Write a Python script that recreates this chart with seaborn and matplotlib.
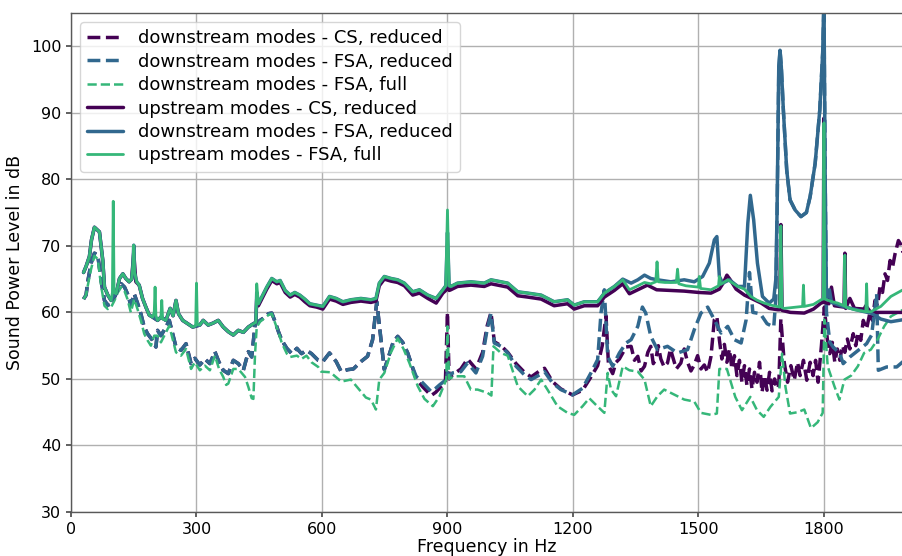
import matplotlib
matplotlib.use("Agg")
import matplotlib.pyplot as plt
import seaborn as sns

# ---- downstream modes, CS, reduced ----
f_down_cs = [30, 36, 40, 48, 56, 64, 72, 80, 88, 96, 104, 112, 120, 128, 135, 143, 151, 159, 167,
             175, 183, 195, 203, 207, 215, 227, 235, 243, 251, 263, 275, 287, 296, 308, 320, 332,
             344, 354, 364, 376, 388, 400, 412, 424, 432, 440, 452, 464, 472, 480, 488, 496, 504,
             516, 528, 540, 551, 563, 575, 591, 602, 618, 634, 646, 662, 675, 693, 709, 721, 731,
             741, 749, 760, 770, 781, 793, 805, 815, 825, 841, 861, 872, 881, 895, 900, 904, 912,
             932, 948, 968, 984, 995, 1004, 1012, 1028, 1044, 1064, 1084, 1100, 1120, 1132, 1151,
             1171, 1199, 1223, 1243, 1259, 1270, 1279, 1285, 1295, 1303, 1311, 1327,
             1339, 1347, 1355, 1363, 1371, 1379, 1386, 1392, 1398, 1404, 1410, 1418, 1426, 1433,
             1440, 1447, 1458, 1466, 1474, 1482, 1490, 1498, 1506, 1514, 1522, 1530, 1538, 1544,
             1550, 1556, 1562, 1568, 1574, 1580, 1586, 1592, 1598, 1604, 1610, 1616, 1622, 1628,
             1634, 1640, 1646, 1652, 1658, 1664, 1670, 1676, 1682, 1688, 1692, 1697, 1705, 1713,
             1721, 1729, 1737, 1743, 1751, 1759, 1767, 1774, 1780, 1786, 1794,
             1801, 1808, 1814, 1820, 1826, 1832, 1838, 1844, 1850, 1856, 1862, 1870, 1876, 1882,
             1888, 1894, 1902, 1910, 1916, 1922, 1928, 1934, 1940, 1946, 1952, 1958, 1964, 1970,
             1978, 1984, 1989]
L_down_cs = [62.0, 62.6, 64.6, 67.4, 68.9, 68.6, 64.8, 61.8, 61.1, 61.3, 62.3, 63.6, 64.3, 63.8,
             62.8, 61.1, 62.8, 61.4, 59.8, 57.8, 56.8, 55.8, 54.8, 57.3, 56.5, 57.8, 58.8, 56.8,
             54.8, 54.3, 55.3, 52.3, 53.1, 52.1, 53.0, 52.3, 54.1, 52.5, 51.3, 50.8, 52.8, 52.3,
             51.3, 54.1, 53.3, 58.1, 58.8, 59.3, 59.8, 59.9, 58.6, 57.1, 55.8, 54.6, 53.8, 54.6,
             53.8, 54.3, 53.8, 52.8, 52.6, 53.9, 52.6, 51.1, 51.4, 51.5, 52.6, 53.4, 55.9, 61.6,
             56.0, 51.4, 53.5, 55.5, 56.4, 55.5, 53.9, 52.0, 50.0, 48.8, 47.5, 48.0, 48.6, 49.5,
             60.0, 50.0, 50.6, 51.5, 53.0, 51.5, 54.0, 58.0, 60.0, 55.6, 55.0, 54.0, 52.3, 51.0,
             50.3, 51.2, 51.6, 49.6, 48.5, 47.6, 48.3, 50.3, 52.0, 55.0, 59.5, 52.0, 50.8, 52.5,
             53.0, 54.8,
             54.9, 52.8, 53.4, 51.2, 51.9, 54.0, 54.9, 52.3, 52.9, 55.0, 53.0, 51.8, 52.4, 54.5,
             53.0, 51.5, 52.4, 54.5, 52.5, 51.2, 52.1, 53.5, 51.5, 52.1, 51.0, 53.4, 58.9, 59.4,
             55.9, 53.0, 55.2, 52.5, 54.5, 51.5, 53.5, 50.5, 52.8, 49.5, 52.0, 49.0, 51.5, 48.5,
             51.0, 49.5, 52.5, 48.0, 50.5, 48.3, 51.0, 48.2, 50.0, 48.5, 49.0, 59.0, 52.5, 49.5,
             52.0, 49.8, 52.5, 50.5, 52.8, 49.8, 52.5, 50.5, 52.8, 49.5, 55.0,
             60.8, 56.0, 53.8, 55.5, 52.5, 54.5, 52.8, 55.0, 54.0, 56.0, 54.5, 56.8, 55.0, 57.0,
             55.8, 58.8, 57.5, 60.0, 58.8, 61.8, 61.0, 63.8, 63.0, 65.8, 64.8, 67.8, 66.8, 68.8,
             70.8, 70.2, 69.0]

# ---- downstream modes, FSA, reduced ----
f_down_fsa_red = [30, 36, 40, 48, 56, 64, 72, 80, 88, 96, 104, 112, 120, 128, 135, 143, 151, 159,
                  167, 175, 183, 195, 203, 207, 215, 227, 235, 243, 251, 263, 275, 287, 296, 308,
                  320, 332, 344, 354, 364, 376, 388, 400, 412, 424, 432, 440, 452, 464, 472, 480,
                  488, 496, 504, 516, 528, 540, 551, 563, 575, 591, 602, 618, 634, 646, 662, 675,
                  693, 709, 721, 731, 741, 749, 760, 770, 781, 793, 805, 815, 825, 841, 861, 872,
                  881, 897, 900, 905, 912, 932, 948, 968, 984, 995, 1004, 1012, 1028, 1044, 1064,
                  1084, 1100, 1120, 1132, 1151, 1171, 1199, 1223, 1243, 1259, 1267, 1275, 1283,
                  1295, 1311, 1327, 1339, 1355, 1366, 1374, 1386, 1402, 1426, 1450, 1474, 1490,
                  1506, 1522, 1538, 1554, 1570, 1586, 1602, 1614, 1622, 1630, 1648, 1664, 1680,
                  1685, 1688, 1692, 1695, 1698, 1703, 1711, 1719, 1731, 1745, 1758, 1767, 1779,
                  1790, 1797, 1800, 1803, 1806, 1814, 1822, 1838, 1846, 1862, 1882, 1902, 1914,
                  1926, 1930, 1950, 1974, 1989]
L_down_fsa_red = [62.0, 62.6, 64.6, 67.4, 68.9, 68.6, 64.8, 61.8, 61.1, 61.3, 62.3, 63.6, 64.3,
                  63.8, 62.8, 61.1, 62.8, 61.4, 59.8, 57.8, 56.8, 55.8, 54.8, 57.3, 56.5, 57.8,
                  58.8, 56.8, 54.8, 54.3, 55.3, 52.3, 53.1, 52.1, 53.0, 52.3, 54.1, 52.5, 51.3,
                  50.8, 52.8, 52.3, 51.3, 54.1, 53.3, 58.1, 58.8, 59.3, 59.8, 59.9, 58.6, 57.1,
                  55.8, 54.6, 53.8, 54.6, 53.8, 54.3, 53.8, 52.8, 52.6, 53.9, 52.6, 51.1, 51.4,
                  51.5, 52.6, 53.4, 55.9, 61.6, 56.0, 51.4, 53.5, 55.5, 56.4, 55.5, 53.9, 52.0,
                  50.4, 49.4, 48.1, 48.6, 49.1, 49.9, 51.0, 50.5, 50.9, 51.1, 52.4, 50.9, 53.4,
                  57.5, 59.8, 55.4, 54.9, 53.9, 51.9, 50.6, 49.9, 50.6, 51.1, 49.4, 48.4, 47.6,
                  48.6, 50.9, 52.9, 59.9, 63.4, 53.4, 51.9, 53.9, 55.4, 55.9, 57.9, 60.8, 59.9,
                  56.4, 54.4, 54.9, 53.9, 54.4, 57.4, 59.9, 60.8, 58.9, 56.9, 57.9, 55.9, 55.4,
                  58.9, 66.0, 60.0, 59.8, 58.3, 57.8, 62.0, 75.0, 96.0, 99.4, 97.0, 90.4, 81.4,
                  76.9, 75.4, 74.4, 75.0, 77.4, 82.4, 90.4, 99.0, 106.0, 80.0, 60.0, 55.5, 54.8,
                  53.8, 52.3, 53.3, 54.3, 55.3, 56.6, 62.8, 51.3, 51.8, 51.8, 52.6]

# ---- downstream modes, FSA, full ----
f_down_fsa_full = [30, 36, 40, 48, 56, 64, 72, 80, 88, 96, 104, 112, 120, 128, 135, 143, 151, 159,
                   167, 175, 183, 191, 199, 207, 215, 227, 235, 243, 251, 263, 275, 287, 296, 308,
                   320, 332, 344, 354, 364, 371, 376, 388, 400, 416, 424, 432, 436, 440, 444, 452,
                   464, 472, 480, 488, 496, 504, 516, 524, 540, 551, 563, 575, 591, 598, 620, 646,
                   669, 693, 705, 717, 729, 737, 749, 765, 781, 795, 809, 829, 845, 865, 881, 897,
                   900, 904, 916, 940, 956, 972, 996, 1005, 1010, 1028, 1044, 1068, 1092, 1108,
                   1124, 1140, 1163, 1187, 1203, 1223, 1239, 1255, 1275, 1283, 1291, 1303, 1319,
                   1335, 1355, 1371, 1386, 1402, 1418, 1434, 1450, 1466, 1490, 1506, 1530, 1544,
                   1550, 1568, 1588, 1604, 1624, 1640, 1656, 1672, 1692, 1700, 1708, 1719, 1737,
                   1753, 1769, 1785, 1797, 1801, 1809, 1825, 1837, 1849, 1865, 1881, 1896, 1912,
                   1928, 1944, 1960, 1989]
L_down_fsa_full = [62.0, 62.6, 64.0, 66.5, 68.5, 68.0, 64.0, 61.0, 60.5, 60.8, 61.8, 63.0, 63.8,
                   63.2, 62.0, 60.0, 62.0, 60.5, 58.8, 56.8, 55.8, 55.0, 56.5, 56.5, 55.5, 57.0,
                   58.0, 56.0, 54.0, 53.5, 54.5, 51.5, 52.5, 51.3, 52.0, 51.3, 53.5, 51.5, 50.3,
                   49.1, 49.3, 51.5, 51.5, 50.3, 48.8, 47.1, 47.0, 53.8, 57.8, 58.6, 59.2, 59.6,
                   59.8, 58.4, 57.0, 55.4, 53.8, 53.3, 53.5, 53.0, 53.5, 52.5, 51.8, 51.1, 51.0,
                   49.6, 49.9, 48.1, 47.2, 46.9, 45.4, 49.9, 50.9, 54.0, 56.1, 54.5, 52.4, 48.9,
                   47.0, 45.9, 47.4, 49.9, 57.9, 50.0, 50.4, 50.4, 48.4, 48.4, 47.9, 47.5, 54.9,
                   53.9, 53.5, 48.9, 47.4, 48.4, 49.9, 48.3, 45.9, 44.9, 44.6, 45.9, 47.1, 46.1,
                   44.9, 50.9, 48.4, 47.4, 51.9, 51.3, 51.1, 49.9, 45.9, 47.4, 48.4, 47.9, 47.4,
                   46.9, 46.6, 44.9, 44.6, 44.8, 51.5, 51.5, 47.3, 45.3, 47.3, 45.3, 44.3, 45.8,
                   47.3, 53.8, 48.8, 44.8, 45.0, 45.4, 42.6, 43.5, 44.9, 58.9, 51.9, 48.9, 46.9,
                   49.9, 50.5, 51.9, 53.9, 54.4, 55.9, 57.9, 59.4, 60.4]

# ---- upstream modes, CS, reduced ----
f_up_cs = [30, 36, 44, 49, 56, 68, 76, 80, 88, 96, 108, 116, 124, 131, 139, 145, 150, 155, 163,
           171, 179, 187, 195, 207, 215, 227, 237, 244, 251, 257, 267, 279, 291, 308, 316, 328,
           340, 352, 364, 376, 388, 400, 412, 424, 436, 442, 444, 448, 456, 468, 480, 492, 500,
           512, 524, 535, 547, 559, 571, 587, 602, 618, 634, 650, 669, 693, 717, 729, 737, 749,
           765, 781, 797, 817, 833, 853, 873, 889, 896, 900, 904, 908, 924, 956, 988, 1004, 1028,
           1044, 1068, 1092, 1124, 1155, 1187, 1203, 1227, 1259, 1275, 1299, 1319, 1335, 1355,
           1378, 1400, 1434, 1466, 1500, 1530, 1550, 1560, 1568, 1575, 1590, 1610, 1630, 1650,
           1669, 1690, 1694, 1697, 1700, 1720, 1753, 1775, 1793, 1798, 1800, 1802, 1812, 1818,
           1825, 1848, 1850, 1852, 1862, 1873, 1896, 1900, 1912, 1940, 1989]
L_up_cs = [66.0, 66.9, 68.4, 70.9, 72.8, 72.1, 67.8, 63.8, 62.6, 61.8, 62.8, 65.1, 65.8, 65.1,
           64.6, 65.0, 69.0, 64.6, 64.1, 62.1, 60.8, 59.6, 59.3, 58.8, 59.3, 58.8, 60.6, 59.5,
           61.8, 59.8, 58.8, 58.3, 57.8, 58.1, 58.8, 58.1, 58.4, 58.8, 57.8, 57.1, 56.6, 57.3,
           57.0, 57.8, 58.3, 58.5, 62.0, 61.0, 62.0, 63.5, 64.8, 64.3, 64.5, 63.0, 62.3, 62.7,
           62.3, 61.6, 61.0, 60.8, 60.5, 62.0, 61.7, 61.2, 61.5, 61.7, 61.5, 61.7, 64.0, 65.0,
           64.7, 64.5, 64.0, 62.6, 62.9, 62.1, 61.4, 62.9, 63.3, 65.0, 63.3, 63.4, 63.9, 64.1,
           63.9, 64.3, 64.0, 63.8, 62.5, 62.3, 62.0, 61.0, 61.3, 60.5, 61.0, 61.0, 62.3, 63.3,
           64.3, 62.8, 63.4, 64.1, 63.4, 63.3, 63.2, 63.0, 62.9, 63.5, 64.5, 65.6, 65.0, 63.5,
           62.6, 62.0, 61.4, 60.6, 60.4, 60.4, 73.2, 60.3, 60.0, 59.9, 60.5, 61.4, 61.5, 89.2,
           61.5, 61.3, 63.8, 61.0, 60.8, 68.9, 60.6, 62.1, 60.6, 60.5, 61.0, 60.0, 60.0, 60.0]

# ---- upstream modes, FSA, reduced ----
f_up_fsa_red = [30, 36, 44, 49, 56, 68, 76, 80, 88, 96, 108, 116, 124, 131, 139, 145, 148, 150,
                152, 157, 163, 171, 179, 187, 195, 207, 215, 227, 237, 244, 251, 257, 267, 279,
                291, 308, 316, 328, 340, 352, 364, 376, 388, 400, 412, 424, 436, 442, 444, 448,
                456, 468, 480, 492, 500, 512, 524, 535, 547, 559, 571, 587, 602, 618, 634, 650,
                669, 693, 717, 729, 737, 749, 765, 781, 797, 817, 833, 853, 873, 889, 896, 900,
                904, 908, 924, 956, 988, 1004, 1028, 1044, 1068, 1092, 1124, 1155, 1187, 1203,
                1227, 1259, 1275, 1299, 1319, 1339, 1355, 1371, 1386, 1402, 1434, 1466, 1490,
                1510, 1526, 1538, 1544, 1550, 1558, 1574, 1594, 1610, 1618, 1624, 1632, 1641,
                1653, 1669, 1680, 1685, 1688, 1692, 1695, 1698, 1703, 1711, 1719, 1731, 1745,
                1758, 1767, 1779, 1790, 1797, 1800, 1803, 1806, 1813, 1818, 1840, 1865, 1890,
                1912, 1936, 1960, 1989]
L_up_fsa_red = [66.0, 66.9, 68.4, 70.9, 72.8, 72.1, 67.8, 63.8, 62.6, 61.8, 62.8, 65.1, 65.8,
                65.1, 64.6, 65.0, 67.0, 70.1, 66.0, 64.6, 64.1, 62.1, 60.8, 59.6, 59.3, 58.8,
                59.3, 58.8, 60.6, 59.5, 61.8, 59.8, 58.8, 58.3, 57.8, 58.1, 58.8, 58.1, 58.4,
                58.8, 57.8, 57.1, 56.6, 57.3, 57.0, 57.8, 58.3, 58.5, 63.0, 61.3, 62.3, 63.8,
                65.1, 64.6, 64.8, 63.3, 62.6, 63.0, 62.6, 62.0, 61.3, 61.1, 60.9, 62.4, 62.1,
                61.6, 61.9, 62.1, 61.9, 62.1, 64.4, 65.4, 65.1, 64.9, 64.4, 63.1, 63.4, 62.6,
                62.1, 63.4, 64.0, 72.0, 64.0, 63.9, 64.4, 64.6, 64.4, 64.9, 64.6, 64.4, 63.1,
                62.9, 62.6, 61.6, 61.9, 61.1, 61.6, 61.6, 62.9, 63.9, 65.0, 64.4, 64.9, 65.6,
                65.1, 64.9, 64.6, 64.9, 64.6, 65.4, 67.4, 70.9, 71.4, 65.4, 64.4, 64.9, 63.9,
                63.9, 73.4, 77.6, 73.9, 67.4, 62.4, 61.4, 62.0, 65.0, 75.4, 97.0, 99.4, 97.0,
                90.4, 81.4, 76.9, 75.4, 74.4, 75.0, 77.4, 82.4, 90.4, 99.0, 108.0, 80.0, 62.0,
                63.4, 61.5, 61.0, 60.6, 60.2, 59.9, 59.0, 58.6, 58.9]

# ---- upstream modes, FSA, full ----
f_up_fsa_full = [30, 36, 44, 49, 56, 68, 76, 80, 88, 96, 99, 101, 103, 108, 116, 124, 131, 139,
                 145, 148, 150, 152, 157, 163, 171, 179, 187, 195, 199, 201, 203, 207, 215, 217,
                 219, 227, 237, 244, 251, 257, 267, 279, 291, 298, 300, 302, 308, 316, 328, 340,
                 352, 364, 376, 388, 400, 412, 424, 436, 442, 444, 448, 456, 468, 480, 492, 500,
                 512, 524, 535, 547, 559, 571, 587, 602, 618, 634, 650, 669, 693, 717, 729, 737,
                 749, 765, 781, 797, 817, 833, 853, 873, 889, 896, 900, 904, 908, 924, 956, 988,
                 1004, 1028, 1044, 1068, 1092, 1124, 1155, 1187, 1203, 1227, 1259, 1275, 1299,
                 1319, 1335, 1355, 1371, 1386, 1398, 1401, 1404, 1420, 1447, 1450, 1453, 1470,
                 1500, 1502, 1505, 1530, 1548, 1550, 1553, 1570, 1594, 1610, 1625, 1641, 1657,
                 1673, 1694, 1697, 1700, 1705, 1749, 1751, 1753, 1775, 1793, 1798, 1800, 1802,
                 1820, 1833, 1848, 1850, 1852, 1873, 1900, 1902, 1904, 1912, 1936, 1960, 1989]
L_up_fsa_full = [66.0, 66.9, 68.4, 70.9, 72.8, 72.1, 67.8, 63.8, 62.6, 61.8, 63.0, 76.7, 63.0,
                 62.8, 65.1, 65.8, 65.1, 64.6, 65.0, 67.0, 70.1, 66.0, 64.6, 64.1, 62.1, 60.8,
                 59.6, 59.3, 60.0, 63.8, 59.5, 58.8, 59.3, 61.8, 59.0, 58.8, 60.6, 59.5, 61.8,
                 59.8, 58.8, 58.3, 57.8, 58.0, 64.4, 58.2, 58.1, 58.8, 58.1, 58.4, 58.8, 57.8,
                 57.1, 56.6, 57.3, 57.0, 57.8, 58.3, 58.5, 64.3, 61.3, 62.3, 63.8, 65.1, 64.6,
                 64.8, 63.3, 62.6, 63.0, 62.6, 62.0, 61.3, 61.1, 60.9, 62.4, 62.1, 61.6, 61.9,
                 62.1, 61.9, 62.1, 64.4, 65.4, 65.1, 64.9, 64.4, 63.1, 63.4, 62.6, 62.1, 63.4,
                 64.0, 75.4, 64.0, 63.9, 64.4, 64.6, 64.4, 64.9, 64.6, 64.4, 63.1, 62.9, 62.6,
                 61.6, 61.9, 61.1, 61.6, 61.6, 62.9, 63.9, 64.9, 63.4, 64.0, 64.5, 64.3, 64.6,
                 67.6, 64.6, 64.5, 64.5, 66.5, 64.3, 64.0, 63.8, 65.4, 63.6, 63.4, 64.0, 65.4,
                 64.2, 64.9, 63.9, 63.5, 62.4, 61.8, 61.4, 61.1, 60.8, 73.0, 60.7, 60.6, 60.9,
                 64.1, 60.9, 61.2, 61.9, 62.0, 88.5, 62.0, 61.6, 61.4, 61.0, 68.6, 60.8, 60.4,
                 60.1, 64.3, 60.1, 60.1, 60.9, 62.4, 63.4]

x_ticks = [0, 300, 600, 900, 1200, 1500, 1800]
y_ticks = [30, 40, 50, 60, 70, 80, 90, 100]

purple, blue, green = "#440154", "#31688e", "#35b779"

series = [
    (f_down_cs, L_down_cs, "downstream modes - CS, reduced", purple, "--", 2.5),
    (f_down_fsa_red, L_down_fsa_red, "downstream modes - FSA, reduced", blue, "--", 2.5),
    (f_down_fsa_full, L_down_fsa_full, "downstream modes - FSA, full", green, "--", 1.8),
    (f_up_cs, L_up_cs, "upstream modes - CS, reduced", purple, "-", 2.5),
    (f_up_fsa_red, L_up_fsa_red, "downstream modes - FSA, reduced", blue, "-", 2.5),
    (f_up_fsa_full, L_up_fsa_full, "upstream modes - FSA, full", green, "-", 2.0),
]

sns.set_theme(style="ticks")
plt.rcParams["font.family"] = ["DejaVu Sans"]
plt.rcParams["text.color"] = "black"
plt.rcParams["axes.labelcolor"] = "black"
plt.rcParams["xtick.color"] = "black"
plt.rcParams["ytick.color"] = "black"

fig = plt.figure(figsize=(9.03, 5.56), dpi=100)
ax = fig.add_axes([71 / 903, 44 / 556, 832 / 903, 499 / 556])

for f, lvl, label, color, ls, lw in series:
    sns.lineplot(x=f, y=lvl, ax=ax, color=color, linestyle=ls, linewidth=lw,
                 label=label, estimator=None, sort=False)

ax.set_xlim(0, 1989)
ax.set_ylim(30, 105)
ax.set_xticks(x_ticks)
ax.set_yticks(y_ticks)
ax.grid(True, color="#b0b0b0", linewidth=1.0)
ax.set_axisbelow(True)
ax.tick_params(labelsize=11.5, length=3.5, color="0.3", labelcolor="black")
for side in ("left", "bottom", "top"):
    ax.spines[side].set_color("0.35")
    ax.spines[side].set_linewidth(1.0)
ax.spines["right"].set_visible(False)

ax.set_xlabel("Frequency in Hz", fontsize=12.5, labelpad=1)
ax.set_ylabel("Sound Power Level in dB", fontsize=12.5, labelpad=5)

leg = ax.legend(loc="upper left", fontsize=13, labelspacing=0.3, handlelength=2.0,
                frameon=True, fancybox=True, framealpha=0.8, edgecolor="0.8")
for txt in leg.get_texts():
    txt.set_color("black")

fig.savefig("out.png", dpi=100)
